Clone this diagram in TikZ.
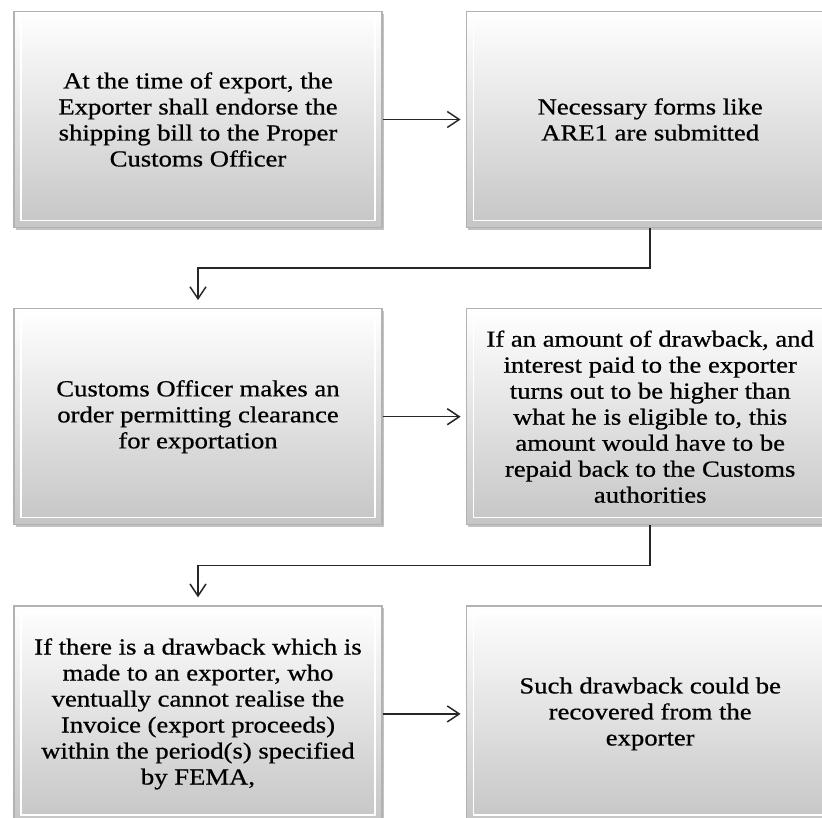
\documentclass[tikz,border=0pt]{standalone}
\usepackage{fontspec}
\setmainfont{Liberation Serif}[FakeStretch=1.16, FakeBold=0.7]
\usepackage{tikz}
\usetikzlibrary{positioning,arrows.meta,shadows}

\begin{document}
\begin{tikzpicture}[
  node distance=80pt and 83pt,
  box/.style={draw=gray!60, line width=1.2pt, top color=white, bottom color=gray!45,
    minimum width=368pt, minimum height=216pt, align=center, inner sep=4pt,
    font=\fontsize{23pt}{26pt}\selectfont,
    drop shadow={shadow xshift=1.5pt, shadow yshift=-2.5pt, fill=gray!80, opacity=.6},
    path picture={\draw[white, line width=1.2pt]
      ([shift={(7pt,-7pt)}]path picture bounding box.north west) rectangle
      ([shift={(-7pt,7pt)}]path picture bounding box.south east);}},
  arr/.style={-{Straight Barb[length=12pt, width=16pt]}, line width=1.5pt, black!85}
]
\useasboundingbox (0,0) rectangle (822pt,-817pt);
\node[box] (export) at (198pt,-119.5pt) {At the time of export, the\\ Exporter shall endorse the\\ shipping bill to the Proper\\ Customs Officer};
\node[box, right=of export] (forms) {Necessary forms like\\ ARE1 are submitted};
\node[box, below=of export] (clearance) {Customs Officer makes an\\ order permitting clearance\\ for exportation};
\node[box, right=of clearance] (repay) {If an amount of drawback, and\\ interest paid to the exporter\\ turns out to be higher than\\ what he is eligible to, this\\ amount would have to be\\ repaid back to the Customs\\ authorities};
\node[box, below=of clearance] (drawback) {If there is a drawback which is\\ made to an exporter, who\\ ventually cannot realise the\\ Invoice (export proceeds)\\ within the period(s) specified\\ by FEMA,};
\node[box, right=of drawback] (recover) {Such drawback could be\\ recovered from the\\ exporter};
% rows
\draw[arr, shorten >=5pt] (export) -- (forms);
\draw[arr, shorten >=5pt] (clearance) -- (repay);
\draw[arr, shorten >=5pt] (drawback) -- (recover);
% down to the next row
\draw[arr, shorten >=8pt] (forms.south) -- ++(0,-40pt) -| (clearance.north);
\draw[arr, shorten >=8pt] (repay.south) -- ++(0,-40pt) -| (drawback.north);
\end{tikzpicture}
\end{document}
